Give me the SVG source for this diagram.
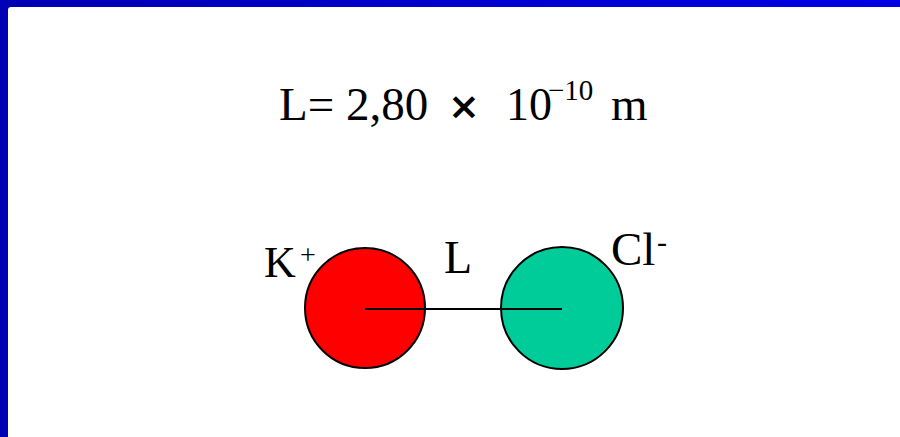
<svg xmlns="http://www.w3.org/2000/svg" width="900" height="437" viewBox="0 0 900 437">
<defs>
<linearGradient id="frame" x1="0" y1="0" x2="1" y2="0">
<stop offset="0" stop-color="#0000b4"/>
<stop offset="1" stop-color="#0000e6"/>
</linearGradient>
</defs>
<style>
.t{font-family:"Liberation Serif","Times New Roman",serif;fill:#000}
.ion{stroke:#000;stroke-width:2}
</style>
<rect x="0" y="0" width="900" height="437" fill="url(#frame)"/>
<rect x="8" y="7" width="900" height="440" rx="3" fill="#fff"/>
<text class="t" x="279" y="120" font-size="47">L= 2,80</text>
<text x="448" y="119" font-family="'DejaVu Sans',sans-serif" font-size="38" font-weight="bold">×</text>
<text class="t" x="506" y="120" font-size="46">10</text>
<text class="t" x="548" y="100" font-size="29">−10</text>
<text class="t" x="611" y="120" font-size="47">m</text>
<g id="K">
<circle class="ion" cx="365" cy="308" r="60" fill="#ff0000"/>
<text class="t" x="264" y="277" font-size="44">K</text>
<text class="t" x="300" y="264" font-size="28">+</text>
</g>
<g id="Cl">
<circle class="ion" cx="562" cy="308" r="61" fill="#00cc99"/>
<text class="t" x="611" y="265" font-size="47">Cl</text>
<text class="t" x="657" y="252" font-size="30">-</text>
</g>
<g id="connectors">
<line x1="365" y1="309" x2="562" y2="309" stroke="#000" stroke-width="2"/>
<text class="t" x="444" y="273" font-size="46">L</text>
</g>
</svg>
